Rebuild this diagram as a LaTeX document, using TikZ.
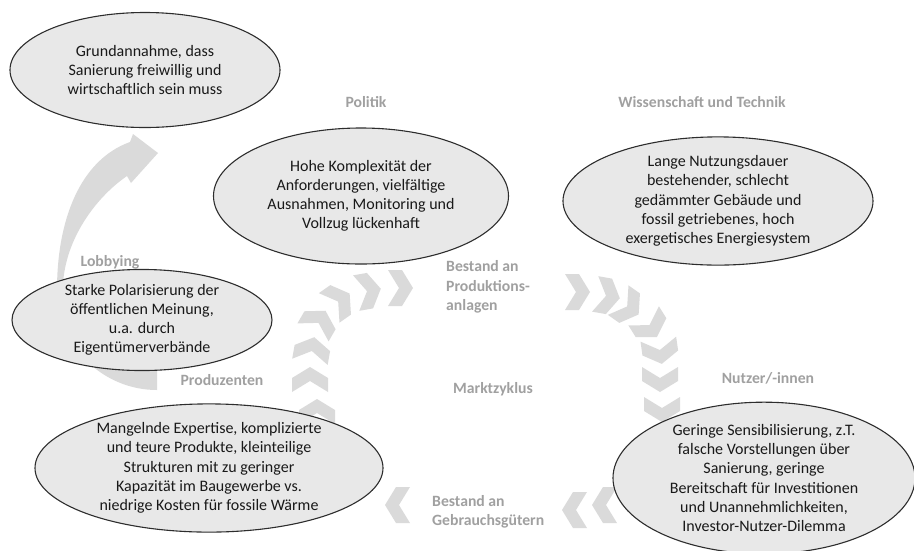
\documentclass[tikz,border=0pt]{standalone}
\usepackage{fontspec}
\setmainfont{Carlito}
\usetikzlibrary{shapes.geometric}
\definecolor{chevgray}{RGB}{218,218,218}
\definecolor{ellfill}{RGB}{232,232,232}
\definecolor{ellline}{RGB}{45,45,45}
\definecolor{labgray}{RGB}{160,160,160}
\tikzset{
  ell/.style={ellipse, draw=ellline, line width=1.1pt, fill=ellfill, inner sep=0pt, align=center,
    font=\fontsize{16}{19.2}\selectfont, text=black!90},
  lab/.style={font=\fontsize{15.7}{19.5}\selectfont\bfseries, text=labgray, inner sep=0pt},
  chev/.style={fill=chevgray, draw=none},
}
\newcommand{\chevron}[3]{%
  \begin{scope}[shift={(#1,#2)}, rotate=#3]
    \fill[chev] (-12,-18) -- (2,-18) -- (13,0) -- (2,18) -- (-12,18) -- (-1,0) -- cycle;
  \end{scope}}
\begin{document}
\begin{tikzpicture}[x=1pt,y=-1pt]
\useasboundingbox (0,0) rectangle (914,550);
% chevrons: left/top-left arc
\chevron{317}{412}{90}
\chevron{310}{380}{90}
\chevron{312}{350}{80}
\chevron{319}{322}{60}
\chevron{339}{301}{35}
\chevron{368}{291}{10}
\chevron{400}{288}{0}
% top-right arc
\chevron{577}{292}{0}
\chevron{607}{296}{-10}
\chevron{628}{307}{-35}
\chevron{650}{326}{-58}
\chevron{660}{351}{-82}
\chevron{660}{379}{-90}
\chevron{662}{409}{-90}
% bottom
\chevron{605}{505}{180}
\chevron{575}{510}{180}
\chevron{398}{505}{180}
% curved arrow
\fill[chevgray] (157,390) .. controls (102,390) and (57,345) .. (57,290)
  .. controls (57,220) and (80,160) .. (130,142)
  -- (133,134) -- (158,153) -- (131,183) -- (127,176)
  .. controls (95,198) and (65,240) .. (63,285)
  .. controls (62,320) and (100,345) .. (157,345) -- cycle;
% ellipses
\node[ell, minimum width=270pt, minimum height=115pt] (e1) at (145,70)
  {Grundannahme, dass\\Sanierung freiwillig und\\wirtschaftlich sein muss};
\node[ell, minimum width=295pt, minimum height=136pt] (e2) at (361,196)
  {Hohe Komplexität der\\Anforderungen, vielfältige\\Ausnahmen, Monitoring und\\Vollzug lückenhaft};
\node[ell, minimum width=310pt, minimum height=128pt] (e3) at (718,201)
  {Lange Nutzungsdauer\\bestehender, schlecht\\gedämmter Gebäude und\\fossil getriebenes, hoch\\exergetisches Energiesystem};
\node[ell, minimum width=260pt, minimum height=96pt] (e4) at (142,320)
  {Starke Polarisierung der\\öffentlichen Meinung,\\u.a. durch\\Eigentümerverbände};
\node[ell, minimum width=348pt, minimum height=127pt] (e5) at (209,468)
  {Mangelnde Expertise, komplizierte\\und teure Produkte, kleinteilige\\Strukturen mit zu geringer\\Kapazität im Baugewerbe vs.\\niedrige Kosten für fossile Wärme};
\node[ell, minimum width=302pt, minimum height=141pt] (e6) at (764,478)
  {Geringe Sensibilisierung, z.T.\\falsche Vorstellungen über\\Sanierung, geringe\\Bereitschaft für Investitionen\\und Unannehmlichkeiten,\\Investor-Nutzer-Dilemma};
% labels
\node[lab] (lpol) at (366,102) {Politik};
\node[lab] (lwis) at (702,102) {Wissenschaft und Technik};
\node[lab] (llob) at (110,262) {Lobbying};
\node[lab, anchor=west, align=left] (lprod) at (446,287) {Bestand an\\Produktions-\\anlagen};
\node[lab] (lmark) at (493,389) {Marktzyklus};
\node[lab] (lpzt) at (222,380) {Produzenten};
\node[lab] (lnutz) at (768,378) {Nutzer/-innen};
\node[lab, anchor=west, align=left] (lgeb) at (432,512) {Bestand an\\Gebrauchsgütern};
\end{tikzpicture}
\end{document}
